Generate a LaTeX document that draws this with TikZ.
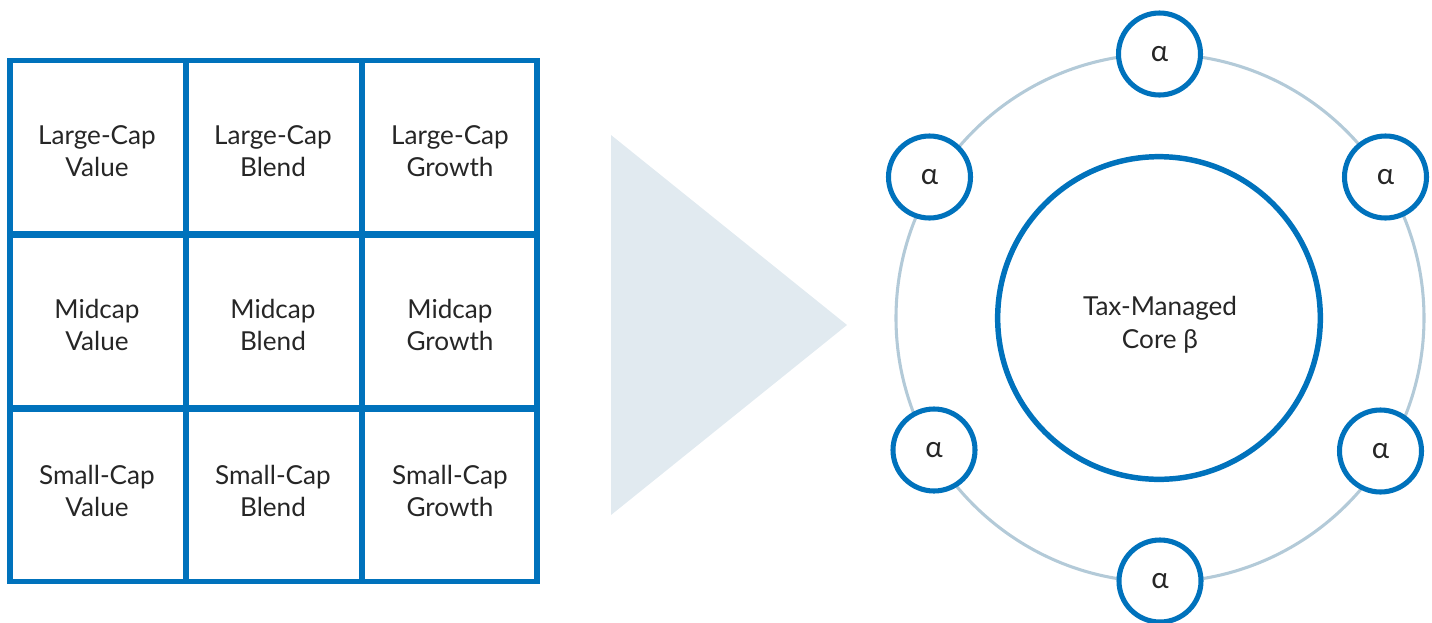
\documentclass[tikz,border=0pt]{standalone}
\usepackage{fontspec}
\setmainfont{Lato}
\definecolor{boxblue}{HTML}{0072BC}
\definecolor{ringgray}{HTML}{B3CAD8}
\definecolor{wedgegray}{HTML}{E1EAF0}
\definecolor{inkgray}{HTML}{262626}

\begin{document}
\begin{tikzpicture}[x=0.75pt,y=-0.75pt,
  cellline/.style={draw=boxblue,line width=4.8pt},
  celltext/.style={text=inkgray,align=center,font=\fontsize{19.6}{24.5}\selectfont},
  alphabub/.style={circle,draw=boxblue,fill=white,line width=3.8pt,minimum size=61.5pt,
    inner sep=0pt,text=inkgray,font=\fontsize{22}{24}\selectfont},
  corebub/.style={circle,draw=boxblue,line width=4.1pt,minimum size=242pt,inner sep=0pt}]
\useasboundingbox (0,0) rectangle (1432,622);

% style box grid
\draw[cellline,line width=4.2pt] (9.7,60.3) rectangle (537,581.5);
\draw[cellline] (186,60.3) -- (186,581.5);
\draw[cellline] (362,60.3) -- (362,581.5);
\draw[cellline] (9.7,234.5) -- (537,234.5);
\draw[cellline] (9.7,408.3) -- (537,408.3);

\node[celltext] (lcv) at (97,151) {Large-Cap\\Value};
\node[celltext] (lcb) at (273,151) {Large-Cap\\Blend};
\node[celltext] (lcg) at (450,151) {Large-Cap\\Growth};
\node[celltext] (mcv) at (97,325) {Midcap\\Value};
\node[celltext] (mcb) at (273,325) {Midcap\\Blend};
\node[celltext] (mcg) at (450,325) {Midcap\\Growth};
\node[celltext] (scv) at (97,491) {Small-Cap\\Value};
\node[celltext] (scb) at (273,491) {Small-Cap\\Blend};
\node[celltext] (scg) at (450,491) {Small-Cap\\Growth};

% arrow wedge
\fill[wedgegray] (611,135) -- (847,325) -- (611,515) -- cycle;

% core and satellites
\draw[ringgray,line width=2.3pt] (1160,318) circle[radius=264];
\node[corebub] (core) at (1159,318) {};
\node[celltext] (coretext) at (1160,325) {Tax-Managed\\Core β};

\node[alphabub] (atop) at (1159.5,54) {α};
\node[alphabub] (aul) at (929.5,177) {α};
\node[alphabub] (aur) at (1385.5,177) {α};
\node[alphabub] (all) at (934,450) {α};
\node[alphabub] (alr) at (1380.5,451) {α};
\node[alphabub] (abot) at (1160,581) {α};
\end{tikzpicture}
\end{document}
